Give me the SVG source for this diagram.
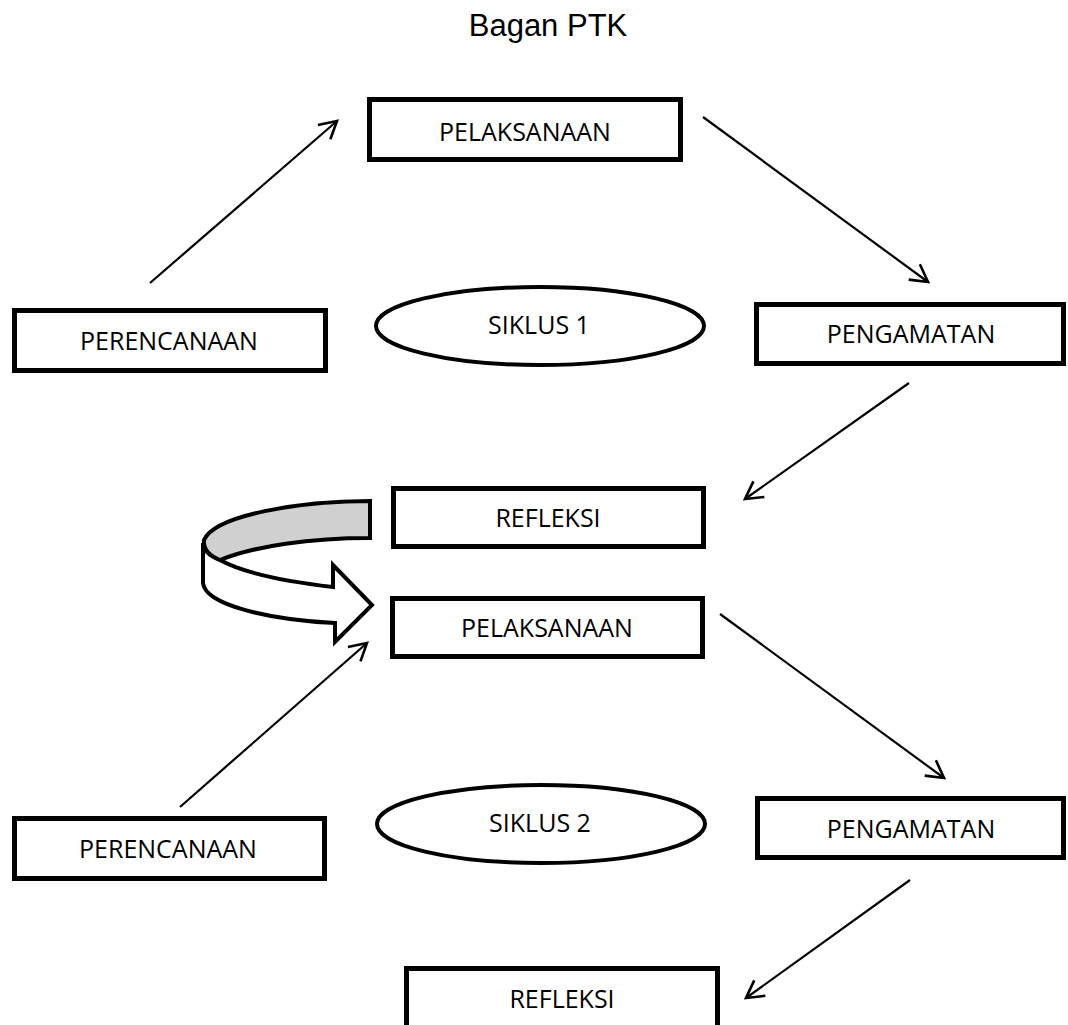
<svg xmlns="http://www.w3.org/2000/svg" width="1068" height="1025" viewBox="0 0 1068 1025">
<defs>
<style>
.box{fill:#fff;stroke:#000;stroke-width:5}
.ell{fill:#fff;stroke:#000;stroke-width:4}
.lbl{font-family:"Open Sans","Liberation Sans",sans-serif;font-size:25px;fill:#000;text-anchor:middle}
.title{font-family:"Liberation Sans",Arial,sans-serif;font-size:31px;fill:#000;text-anchor:middle}
.conn{stroke:#000;stroke-width:2.2;fill:none;marker-end:url(#arr)}
</style>
<marker id="arr" markerUnits="userSpaceOnUse" markerWidth="40" markerHeight="40" refX="0" refY="0" viewBox="-20 -20 40 40" orient="auto" overflow="visible">
<path d="M-17,-9.5 L0,0 L-17,9.5" fill="none" stroke="#000" stroke-width="2.6" stroke-linejoin="miter"/>
</marker>
</defs>
<rect width="1068" height="1025" fill="#fff"/>
<text class="title" x="548" y="36">Bagan PTK</text>

<g id="connectors">
<line class="conn" x1="150" y1="283" x2="337" y2="121"/>
<line class="conn" x1="703" y1="117" x2="928" y2="282"/>
<line class="conn" x1="909" y1="383" x2="745" y2="499"/>
<line class="conn" x1="180" y1="807" x2="367" y2="643"/>
<line class="conn" x1="720" y1="614" x2="944" y2="778"/>
<line class="conn" x1="910" y1="880" x2="746" y2="998"/>
</g>

<g id="curved-arrow">
<path d="M203,543 L203,583 C205,605 270,620 335,623 L335,642 L372,605 L333,565 L333,587 C290,582 245,574 220,560 C210,556 203,550 203,543 Z" fill="#fff" stroke="#000" stroke-width="4" stroke-linejoin="miter"/>
<path d="M370,501 C300,501 215,515 204,540 C203,550 210,556 220,560 C255,546 310,538 370,538 Z" fill="#d0d0d0" stroke="#000" stroke-width="4" stroke-linejoin="miter"/>
</g>

<g id="pelaksanaan1"><rect class="box" x="369.5" y="99.5" width="311" height="60"/><text class="lbl" x="525" y="141">PELAKSANAAN</text></g>
<g id="perencanaan1"><rect class="box" x="14.5" y="310.5" width="311" height="60"/><text class="lbl" x="169" y="350">PERENCANAAN</text></g>
<g id="siklus1"><ellipse class="ell" cx="540" cy="326" rx="164" ry="39"/><text class="lbl" x="539" y="334">SIKLUS 1</text></g>
<g id="pengamatan1"><rect class="box" x="756.5" y="304.5" width="307" height="59"/><text class="lbl" x="911" y="343">PENGAMATAN</text></g>
<g id="refleksi1"><rect class="box" x="393.5" y="488.5" width="310" height="58"/><text class="lbl" x="548" y="527">REFLEKSI</text></g>
<g id="pelaksanaan2"><rect class="box" x="392.5" y="598.5" width="310" height="58"/><text class="lbl" x="547" y="637">PELAKSANAAN</text></g>
<g id="perencanaan2"><rect class="box" x="14.5" y="818.5" width="310" height="60"/><text class="lbl" x="168" y="858">PERENCANAAN</text></g>
<g id="siklus2"><ellipse class="ell" cx="541" cy="824" rx="164" ry="39"/><text class="lbl" x="540" y="832">SIKLUS 2</text></g>
<g id="pengamatan2"><rect class="box" x="757.5" y="798.5" width="306" height="59"/><text class="lbl" x="911" y="838">PENGAMATAN</text></g>
<g id="refleksi2"><rect class="box" x="406.5" y="968.5" width="311" height="90"/><text class="lbl" x="562" y="1008">REFLEKSI</text></g>
</svg>
